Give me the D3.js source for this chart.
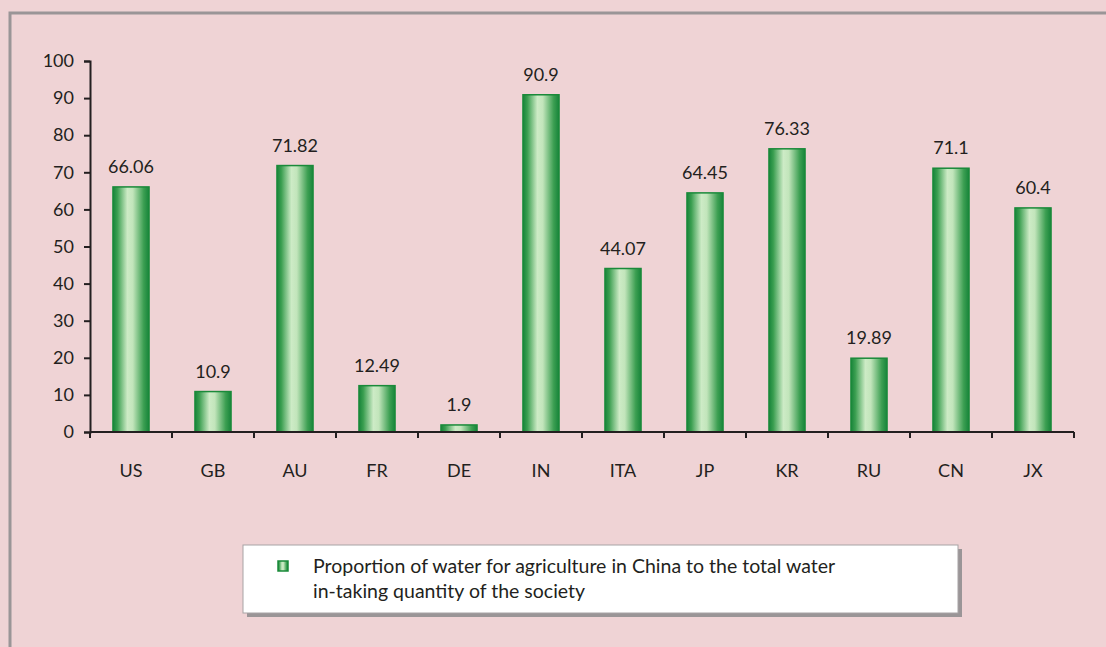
<!DOCTYPE html>
<html><head><meta charset="utf-8">
<script src="https://cdn.jsdelivr.net/npm/d3@7"></script>
<style>html,body{margin:0;padding:0;background:#efd3d5;}svg{display:block;}</style>
</head><body>
<script>
const categories = ["US","GB","AU","FR","DE","IN","ITA","JP","KR","RU","CN","JX"];
const values = [66.06,10.9,71.82,12.49,1.9,90.9,44.07,64.45,76.33,19.89,71.1,60.4];
const valueLabels = ["66.06","10.9","71.82","12.49","1.9","90.9","44.07","64.45","76.33","19.89","71.1","60.4"];
const yTicks = [0,10,20,30,40,50,60,70,80,90,100];
const legendLines = ["Proportion of water for agriculture in China to the total water","in-taking quantity of the society"];

const W = 1106, H = 647;
const font = "Lato, 'Open Sans', sans-serif";
const svg = d3.select("body").append("svg").attr("width", W).attr("height", H);

const defs = svg.append("defs");
const grad = defs.append("linearGradient").attr("id","barGrad").attr("x1","0%").attr("x2","100%").attr("y1","0%").attr("y2","0%");
[["0%","#17843a"],["12%","#3a9e50"],["40%","#cdebc6"],["55%","#c2e5bb"],["85%","#3c9f52"],["100%","#17843a"]]
  .forEach(([o,c]) => grad.append("stop").attr("offset",o).attr("stop-color",c));

svg.append("rect").attr("width",W).attr("height",H).attr("fill","#efd3d5");
// outer frame (extends past right/bottom edges)
svg.append("rect").attr("x",10).attr("y",13).attr("width",W+20).attr("height",H+20)
  .attr("fill","none").attr("stroke","#9a9597").attr("stroke-width",3);

const x = d3.scaleBand().domain(categories).range([90,1074]).paddingInner(0.56).paddingOuter(0.28);
const y = d3.scaleLinear().domain([0,100]).range([432,61]);

const xAxisBand = d3.scaleBand().domain(categories).range([90,1074]);

// bars
svg.append("g").selectAll("rect").data(values).join("rect")
  .attr("x",(d,i)=>x(categories[i]))
  .attr("y",d=>y(d))
  .attr("width",x.bandwidth())
  .attr("height",d=>y(0)-y(d))
  .attr("fill","url(#barGrad)")
  .attr("stroke","#1a8a3a").attr("stroke-width",1.5);

// value labels
svg.append("g").selectAll("text").data(values).join("text")
  .attr("x",(d,i)=>x(categories[i])+x.bandwidth()/2)
  .attr("y",d=>y(d)-14)
  .attr("text-anchor","middle")
  .attr("font-family",font).attr("font-size",18).attr("fill","#231f20")
  .text((d,i)=>valueLabels[i]);

// y axis
const yAxis = svg.append("g").attr("transform","translate(90,0)")
  .call(d3.axisLeft(y).tickValues(yTicks).tickSize(6).tickPadding(10));
yAxis.select(".domain").attr("stroke","#231f20").attr("stroke-width",2);
yAxis.selectAll(".tick line").attr("stroke","#231f20").attr("stroke-width",2);
yAxis.selectAll("text").attr("font-family",font).attr("font-size",18).attr("fill","#231f20");

// x axis
const xg = svg.append("g").attr("transform","translate(0,432)");
xg.append("line").attr("x1",90).attr("x2",1074).attr("stroke","#231f20").attr("stroke-width",2);
const bounds = categories.map(c=>xAxisBand(c)).concat([1074]);
xg.selectAll("line.t").data(bounds).join("line").attr("class","t")
  .attr("x1",d=>d).attr("x2",d=>d).attr("y1",0).attr("y2",6)
  .attr("stroke","#231f20").attr("stroke-width",2);
xg.selectAll("text").data(categories).join("text")
  .attr("x",d=>xAxisBand(d)+xAxisBand.bandwidth()/2)
  .attr("y",45)
  .attr("text-anchor","middle")
  .attr("font-family",font).attr("font-size",18).attr("fill","#231f20")
  .text(d=>d);

// legend
const lg = svg.append("g");
lg.append("rect").attr("x",247).attr("y",549).attr("width",715).attr("height",68).attr("fill","#9a9597");
lg.append("rect").attr("x",243).attr("y",545).attr("width",715).attr("height",68).attr("fill","#ffffff").attr("stroke","#a7a3a5").attr("stroke-width",1);
lg.append("rect").attr("x",278).attr("y",561).attr("width",10).attr("height",10)
  .attr("fill","url(#barGrad)").attr("stroke","#1a8a3a").attr("stroke-width",1.5);
lg.selectAll("text").data(legendLines).join("text")
  .attr("x",313).attr("y",(d,i)=>573+i*25)
  .attr("font-family",font).attr("font-size",19.5).attr("fill","#231f20")
  .text(d=>d);
</script>
</body></html>
